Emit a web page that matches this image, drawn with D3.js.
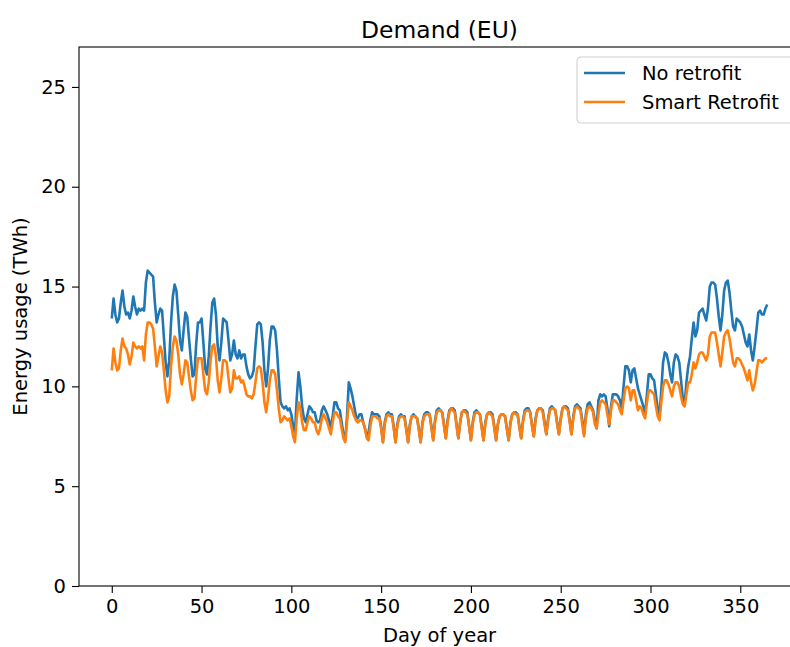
<!DOCTYPE html>
<html>
<head>
<meta charset="utf-8">
<script src="https://cdn.jsdelivr.net/npm/d3@7"></script>
<style>
  body { margin: 0; background: #fff; }
  text { font-family: "DejaVu Sans", sans-serif; fill: #000; }
</style>
</head>
<body>
<script>
// daily demand, TWh, day 0..365
var noRetrofit = [
  13.4, 14.4, 13.6, 13.2, 13.4, 14.2, 14.8,
  14.0, 13.6, 13.7, 13.4, 13.8, 14.5, 14.0,
  13.6, 13.9, 13.8, 13.9, 13.8, 15.2, 15.8,
  15.7, 15.6, 15.5, 14.2, 13.2, 13.6, 13.9,
  13.8, 12.5, 11.2, 10.5, 11.3, 13.2, 14.5,
  15.1, 14.8, 13.6, 12.3, 11.8, 12.8, 13.7,
  13.5, 12.4, 11.4, 10.5, 10.6, 12.1, 13.2,
  13.2, 13.4, 12.2, 10.9, 10.6, 11.5, 13.0,
  14.2, 14.4, 13.6, 12.0, 11.3, 12.2, 13.4,
  13.3, 13.2, 12.3, 11.3, 11.6, 12.3, 11.6,
  11.4, 11.8, 11.4, 11.6, 11.6, 11.0, 10.6,
  10.4, 10.5, 10.8, 12.0, 13.1, 13.2, 13.1,
  12.2, 10.8, 10.0, 10.9, 12.3, 13.0, 13.0,
  12.8, 11.8, 10.4, 9.2, 9.0, 8.9, 9.0,
  8.8, 8.9, 8.6, 8.0, 7.7, 9.4, 10.7,
  10.0, 9.0, 8.4, 8.2, 8.6, 9.0, 8.9,
  8.7, 8.7, 8.3, 8.2, 8.3, 8.8, 9.0,
  8.8, 8.6, 8.3, 7.9, 8.5, 9.2, 9.2,
  8.9, 8.8, 8.2, 7.6, 7.3, 8.5, 10.2,
  9.9, 9.5, 9.0, 8.5, 8.4, 8.6, 8.6,
  8.2, 7.9, 7.5, 7.7, 8.3, 8.7, 8.6,
  8.6, 8.6, 8.5, 8.0, 7.2, 8.2, 8.6,
  8.7, 8.6, 8.6, 8.0, 7.2, 8.1, 8.5,
  8.6, 8.5, 8.5, 7.9, 7.2, 8.1, 8.5,
  8.6, 8.5, 8.4, 7.9, 7.2, 8.2, 8.6,
  8.7, 8.7, 8.6, 8.0, 7.3, 8.3, 8.8,
  8.9, 8.8, 8.7, 8.1, 7.4, 8.3, 8.8,
  8.9, 8.9, 8.8, 8.1, 7.4, 8.2, 8.7,
  8.8, 8.8, 8.7, 8.0, 7.3, 8.2, 8.7,
  8.8, 8.7, 8.6, 8.0, 7.3, 8.2, 8.6,
  8.7, 8.7, 8.6, 8.0, 7.3, 8.1, 8.5,
  8.6, 8.6, 8.5, 7.9, 7.3, 8.2, 8.6,
  8.7, 8.7, 8.6, 8.0, 7.4, 8.3, 8.8,
  8.9, 8.9, 8.7, 8.1, 7.5, 8.4, 8.8,
  8.9, 8.9, 8.8, 8.2, 7.6, 8.4, 8.9,
  9.0, 8.9, 8.8, 8.2, 7.6, 8.4, 8.9,
  9.0, 9.0, 8.9, 8.3, 7.6, 8.5, 9.0,
  9.1, 9.0, 8.9, 8.3, 7.6, 8.6, 9.1,
  9.2, 9.0, 8.8, 8.3, 7.9, 9.3, 9.6,
  9.5, 9.6, 9.5, 8.9, 8.0, 9.0, 9.6,
  9.6, 9.6, 9.5, 9.3, 8.9, 10.0, 11.0,
  11.0, 10.8, 10.2, 10.8, 10.9, 10.4, 9.9,
  9.6, 9.3, 9.0, 8.6, 9.6, 10.6, 10.6,
  10.4, 10.3, 9.6, 8.9, 8.5, 9.8, 11.2,
  11.7, 11.6, 11.2, 10.6, 10.2, 11.2, 11.6,
  11.5, 11.2, 10.3, 9.4, 9.1, 10.2, 11.0,
  11.5, 12.4, 13.2, 12.5, 12.8, 13.7, 13.8,
  13.9, 13.6, 13.3, 13.9, 15.0, 15.2, 15.2,
  15.1, 14.4, 13.5, 12.8, 13.6, 14.8, 15.2,
  15.3, 14.7, 13.8, 13.0, 12.8, 13.4, 13.3,
  13.2, 13.0, 12.6, 12.2, 12.0, 12.6, 11.8,
  11.3, 12.0, 12.8, 13.7, 13.8, 13.6, 13.6,
  13.9, 14.1
];

var smartRetrofit = [
  10.8, 11.9, 11.2, 10.8, 10.9, 11.8, 12.4,
  12.0, 11.9, 11.6, 11.1, 11.5, 12.2, 12.0,
  11.9, 12.0, 11.9, 12.0, 11.3, 12.6, 13.2,
  13.2, 13.1, 12.9, 12.0, 11.0, 11.5, 12.0,
  11.7, 10.8, 9.8, 9.2, 9.5, 11.0, 12.0,
  12.5, 12.3, 11.6, 10.6, 10.1, 10.6, 11.3,
  11.2, 10.5, 9.8, 9.3, 9.4, 10.5, 11.4,
  11.4, 11.4, 10.6, 9.8, 9.6, 10.2, 11.3,
  12.0, 12.1, 11.5, 10.3, 9.7, 10.4, 11.3,
  11.3, 11.2, 10.4, 9.7, 9.9, 10.8, 10.4,
  10.4, 10.5, 10.2, 10.3, 10.0, 9.6, 9.5,
  9.5, 9.4, 9.6, 10.2, 10.9, 11.0, 10.9,
  10.2, 9.2, 8.7, 9.4, 10.3, 10.8, 10.8,
  10.6, 9.8, 8.9, 8.2, 8.3, 8.5, 8.4,
  8.3, 8.4, 8.0, 7.5, 7.2, 8.4, 9.2,
  8.9, 8.2, 7.8, 7.8, 8.2, 8.5, 8.4,
  8.2, 8.2, 7.8, 7.6, 7.9, 8.4, 8.6,
  8.4, 8.2, 7.9, 7.6, 8.2, 8.7, 8.7,
  8.5, 8.4, 7.9, 7.4, 7.2, 8.2, 9.2,
  9.0, 8.8, 8.5, 8.3, 8.2, 8.3, 8.3,
  8.2, 7.9, 7.4, 7.3, 8.0, 8.5, 8.5,
  8.5, 8.4, 8.4, 7.9, 7.2, 8.1, 8.5,
  8.6, 8.5, 8.5, 7.9, 7.2, 8.0, 8.4,
  8.5, 8.5, 8.4, 7.8, 7.2, 8.0, 8.5,
  8.5, 8.5, 8.4, 7.8, 7.2, 8.1, 8.5,
  8.6, 8.6, 8.6, 7.9, 7.3, 8.2, 8.7,
  8.8, 8.8, 8.7, 8.0, 7.4, 8.2, 8.7,
  8.9, 8.8, 8.7, 8.0, 7.4, 8.2, 8.7,
  8.8, 8.7, 8.6, 8.0, 7.3, 8.1, 8.6,
  8.7, 8.7, 8.6, 7.9, 7.3, 8.1, 8.6,
  8.7, 8.6, 8.5, 7.9, 7.3, 8.1, 8.5,
  8.6, 8.6, 8.5, 7.9, 7.3, 8.1, 8.6,
  8.7, 8.6, 8.6, 7.9, 7.4, 8.2, 8.7,
  8.8, 8.8, 8.7, 8.0, 7.5, 8.3, 8.8,
  8.9, 8.9, 8.7, 8.1, 7.6, 8.3, 8.8,
  8.9, 8.9, 8.8, 8.1, 7.6, 8.3, 8.9,
  9.0, 8.9, 8.8, 8.2, 7.6, 8.4, 8.9,
  9.0, 8.9, 8.8, 8.1, 7.5, 8.4, 8.9,
  9.0, 8.9, 8.7, 8.1, 7.9, 8.6, 9.2,
  9.3, 9.2, 9.1, 8.6, 8.1, 8.8, 9.3,
  9.3, 9.2, 9.1, 8.8, 8.6, 9.3, 9.9,
  10.0, 9.9, 9.3, 9.8, 9.8, 9.3, 8.8,
  9.0, 8.9, 8.6, 8.4, 9.2, 9.8, 9.8,
  9.7, 9.6, 9.0, 8.5, 8.3, 9.2, 10.0,
  10.3, 10.3, 10.1, 9.8, 9.5, 10.0, 10.2,
  10.2, 10.0, 9.5, 9.1, 9.0, 9.6, 10.2,
  10.2, 10.6, 11.2, 10.9, 11.2, 11.6, 11.7,
  11.7, 11.5, 11.3, 11.6, 12.5, 12.7, 12.7,
  12.7, 12.2, 11.6, 11.0, 11.7, 12.5, 12.7,
  12.8, 12.4, 11.8, 11.2, 11.0, 11.4, 11.4,
  11.3, 11.1, 10.9, 10.6, 10.3, 10.8, 10.2,
  9.8, 10.1, 10.7, 11.3, 11.3, 11.2, 11.3,
  11.4, 11.4
];

var seriesNames = ["No retrofit", "Smart Retrofit"];
var seriesColors = ["#1f77b4", "#ff7f0e"];
var xTicks = [0, 50, 100, 150, 200, 250, 300, 350];
var yTicks = [0, 5, 10, 15, 20, 25];

var margin = {top: 47, right: 0, left: 79, bottom: 61},
    width = 800 - margin.left - margin.right,
    height = 647 - margin.top - margin.bottom;

var svg = d3.select("body")
    .append("svg")
    .attr("width", 790)
    .attr("height", 647);

var g = svg.append("g")
    .attr("transform", "translate(" + margin.left + "," + margin.top + ")");

var x = d3.scaleLinear().domain([-18.25, 383.25]).range([0, width]);
var y = d3.scaleLinear().domain([0, 27]).range([height, 0]);

var line = d3.line()
    .x(function(d, i) { return x(i); })
    .y(function(d) { return y(d); });

[noRetrofit, smartRetrofit].forEach(function(s, k) {
  g.append("path")
      .datum(s)
      .attr("fill", "none")
      .attr("stroke", seriesColors[k])
      .attr("stroke-width", 2.6)
      .attr("stroke-linejoin", "round")
      .attr("d", line);
});

// axes
var xAxis = g.append("g")
    .attr("transform", "translate(0," + height + ")")
    .call(d3.axisBottom(x).tickValues(xTicks).tickSize(7).tickPadding(6).tickSizeOuter(0));
var yAxis = g.append("g")
    .call(d3.axisLeft(y).tickValues(yTicks).tickSize(7).tickPadding(6).tickSizeOuter(0));

[xAxis, yAxis].forEach(function(a) {
  a.select(".domain").remove();
  a.selectAll("line").attr("stroke", "#000").attr("stroke-width", 1.1);
  a.selectAll("text").style("font-size", "19.5px").attr("fill", "#000");
});

g.append("rect")
    .attr("width", width)
    .attr("height", height)
    .attr("fill", "none")
    .attr("stroke", "#000")
    .attr("stroke-width", 1.1);

svg.append("text")
    .attr("x", margin.left + width / 2)
    .attr("y", 38)
    .attr("text-anchor", "middle")
    .style("font-size", "23.4px")
    .text("Demand (EU)");

svg.append("text")
    .attr("x", margin.left + width / 2)
    .attr("y", 642)
    .attr("text-anchor", "middle")
    .style("font-size", "19.5px")
    .text("Day of year");

svg.append("text")
    .attr("transform", "translate(27," + (margin.top + height / 2) + ") rotate(-90)")
    .attr("text-anchor", "middle")
    .style("font-size", "19.5px")
    .text("Energy usage (TWh)");

// legend
var lg = svg.append("g").attr("transform", "translate(577,57)");
lg.append("rect")
    .attr("width", 230)
    .attr("height", 66)
    .attr("rx", 4)
    .attr("fill", "#fff")
    .attr("fill-opacity", 0.8)
    .attr("stroke", "#d0d0d0")
    .attr("stroke-width", 1.1);

seriesNames.forEach(function(n, k) {
  var yy = 16 + k * 29;
  lg.append("line")
      .attr("x1", 7).attr("x2", 48)
      .attr("y1", yy).attr("y2", yy)
      .attr("stroke", seriesColors[k])
      .attr("stroke-width", 2.6);
  lg.append("text")
      .attr("x", 65)
      .attr("y", yy)
      .attr("dy", "0.35em")
      .style("font-size", "19.5px")
      .text(n);
});
</script>
</body>
</html>
